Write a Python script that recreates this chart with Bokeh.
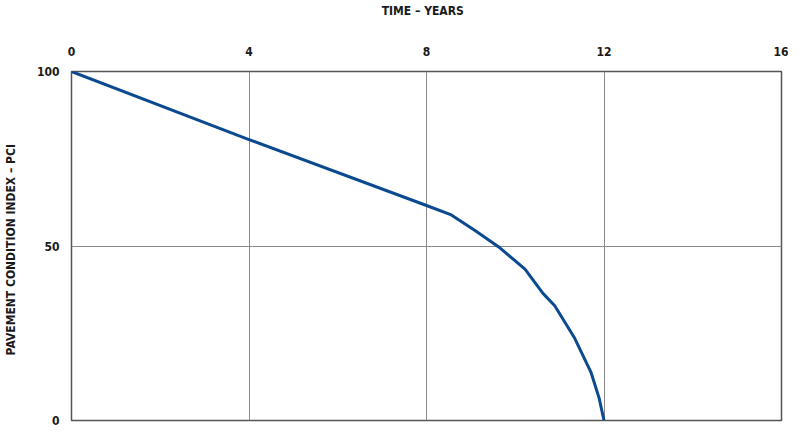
from bokeh.plotting import figure
from bokeh.models import FixedTicker, Range1d
from bokeh.embed import file_html
from bokeh.resources import INLINE

years = [0, 4, 8.0, 8.56, 9.11, 9.62, 10.22, 10.62, 10.89, 11.33, 11.71, 11.89, 12.0]
pci = [100, 80.5, 61.6, 58.9, 54.3, 49.8, 43.4, 36.5, 32.9, 23.8, 13.7, 6.4, 0]
x_ticks = [0, 4, 8, 12, 16]
y_ticks = [0, 50, 100]

FONT = "DejaVu Sans Condensed"
TXT = "#1a1a1a"

p = figure(width=788, height=429, output_backend="svg", toolbar_location=None,
           x_range=Range1d(0, 16), y_range=Range1d(0, 100),
           x_axis_location="above", min_border_left=62, min_border_right=7,
           min_border_top=70, min_border_bottom=9)

p.outline_line_color = "#555555"
p.outline_line_width = 1.5

for ax in p.xaxis:
    ax.ticker = FixedTicker(ticks=x_ticks)
    ax.major_tick_line_color = None
    ax.minor_tick_line_color = None
    ax.axis_line_color = None
    ax.major_label_text_font = FONT
    ax.major_label_text_font_style = "bold"
    ax.major_label_text_font_size = "12px"
    ax.major_label_text_color = TXT
    ax.major_label_standoff = 10
    ax.axis_label = "TIME  \u2013  YEARS"
    ax.axis_label_text_font = FONT
    ax.axis_label_text_font_style = "bold"
    ax.axis_label_text_font_size = "12px"
    ax.axis_label_text_color = TXT
    ax.axis_label_standoff = 26

for ax in p.yaxis:
    ax.ticker = FixedTicker(ticks=y_ticks)
    ax.major_tick_line_color = None
    ax.minor_tick_line_color = None
    ax.axis_line_color = None
    ax.major_label_text_font = FONT
    ax.major_label_text_font_style = "bold"
    ax.major_label_text_font_size = "12px"
    ax.major_label_text_color = TXT
    ax.major_label_standoff = 6
    ax.axis_label = "PAVEMENT CONDITION INDEX  \u2013  PCI"
    ax.axis_label_text_font = FONT
    ax.axis_label_text_font_style = "bold"
    ax.axis_label_text_font_size = "12px"
    ax.axis_label_text_color = TXT
    ax.axis_label_standoff = 16

p.xgrid.ticker = FixedTicker(ticks=x_ticks)
p.ygrid.ticker = FixedTicker(ticks=y_ticks)
p.grid.grid_line_color = "#8a8a8a"
p.grid.grid_line_width = 1
p.grid.grid_line_alpha = 1

p.line(years, pci, line_color="#0b4a8f", line_width=3, line_join="round")

open("out.html", "w").write(file_html(p, INLINE))
